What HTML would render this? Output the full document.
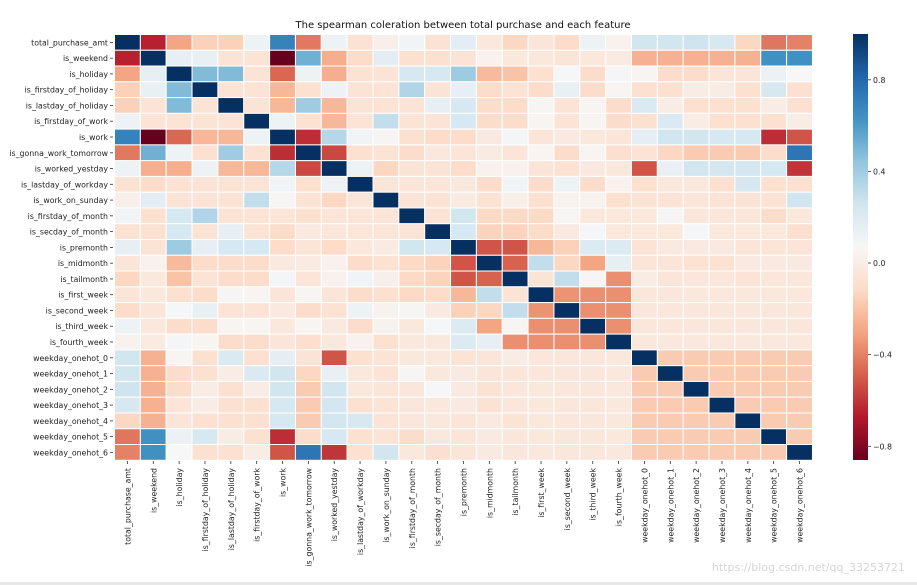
<!DOCTYPE html>
<html><head><meta charset="utf-8"><style>
html,body{margin:0;padding:0;background:#fff;}
svg{display:block;font-family:"DejaVu Sans","Liberation Sans",sans-serif;}
</style></head><body>
<svg id="chart" width="917" height="585" viewBox="0 0 917 585">
<rect x="0" y="0" width="917" height="585" fill="#fff"/>
<rect x="0" y="582" width="917" height="3" fill="#e8e8e8"/>
<text x="463" y="28" font-size="10" text-anchor="middle" fill="#111">The spearman coleration between total purchase and each feature</text>
<g id="cells"></g>
<g id="ylabels"></g>
<g id="xlabels"></g>
<defs><linearGradient id="cbg" x1="0" y1="1" x2="0" y2="0"></linearGradient></defs>
<rect x="853" y="34" width="15" height="426" fill="url(#cbg)"/>
<g id="cbticks"></g>
<text x="905" y="571" font-size="11" text-anchor="end" fill="#d4d4d4">https://blog.csdn.net/qq_33253721</text>
</svg>
<script>
const features = ["total_purchase_amt","is_weekend","is_holiday","is_firstday_of_holiday","is_lastday_of_holiday","is_firstday_of_work","is_work","is_gonna_work_tomorrow","is_worked_yestday","is_lastday_of_workday","is_work_on_sunday","is_firstday_of_month","is_secday_of_month","is_premonth","is_midmonth","is_tailmonth","is_first_week","is_second_week","is_third_week","is_fourth_week","weekday_onehot_0","weekday_onehot_1","weekday_onehot_2","weekday_onehot_3","weekday_onehot_4","weekday_onehot_5","weekday_onehot_6"];
// rows 0..19 full (27 values each)
const corrRows = [
[1,-0.65,-0.3,-0.15,-0.15,0.12,0.7,-0.42,0.12,-0.07,0.02,0.1,-0.07,0.17,-0.03,-0.13,-0.05,-0.11,0.12,0.03,0.25,0.25,0.26,0.22,-0.13,-0.43,-0.4],
[-0.65,1,0.15,0.14,-0.06,-0.06,-0.86,0.52,-0.27,-0.11,0.17,-0.08,-0.08,-0.06,0.03,-0.03,-0.03,-0.05,-0.03,-0.01,-0.26,-0.26,-0.26,-0.26,-0.26,0.64,0.64],
[-0.3,0.15,1,0.48,0.48,-0.06,-0.47,0.12,-0.27,-0.07,-0.06,0.23,0.23,0.41,-0.23,-0.2,-0.08,0.08,-0.1,0.09,0.05,-0.1,-0.1,-0.05,-0.05,0.13,0.07],
[-0.15,0.14,0.48,1,-0.06,-0.06,-0.24,-0.08,0.12,-0.06,-0.06,0.35,-0.06,0.15,-0.1,-0.06,-0.1,0.14,-0.1,0.05,-0.08,-0.08,0,0,-0.08,0.22,-0.08],
[-0.15,-0.06,0.48,-0.06,1,-0.06,-0.24,0.4,-0.24,-0.06,-0.06,-0.06,0.15,0.23,-0.1,-0.1,0.06,-0.06,0.05,-0.1,0.21,0,-0.08,-0.08,-0.08,0,-0.08],
[0.12,-0.06,-0.06,-0.06,-0.06,1,0.12,-0.07,-0.24,-0.06,0.3,-0.06,-0.06,0.23,-0.1,-0.1,0.05,-0.06,0.05,-0.1,-0.08,0.21,0,-0.08,-0.08,-0.08,0],
[0.7,-0.86,-0.47,-0.24,-0.24,0.12,1,-0.62,0.34,0.1,0.06,-0.08,-0.11,-0.11,-0.02,0.09,-0.05,-0.02,-0.03,-0.05,0.16,0.25,0.25,0.23,0.23,-0.62,-0.52],
[-0.42,0.52,0.12,-0.08,0.4,-0.07,-0.62,1,-0.55,-0.08,-0.06,-0.1,-0.03,-0.05,-0.01,-0.05,0.05,-0.1,0.05,-0.09,-0.06,-0.13,-0.17,-0.17,-0.17,-0.1,0.75],
[0.12,-0.27,-0.27,0.12,-0.24,-0.24,0.34,-0.55,1,0.12,-0.13,-0.06,-0.06,-0.11,0.03,0.03,-0.05,-0.07,-0.02,-0.03,-0.52,0.14,0.25,0.24,0.24,0.23,-0.6],
[-0.07,-0.11,-0.07,-0.06,-0.06,-0.06,0.1,-0.08,0.12,1,-0.05,-0.05,-0.05,-0.03,-0.1,0.1,-0.1,0.12,-0.1,0.03,-0.08,-0.03,-0.03,-0.08,0.22,-0.08,-0.08],
[0.02,0.17,-0.06,-0.06,-0.06,0.3,0.06,-0.06,-0.13,-0.05,1,-0.06,-0.06,-0.01,-0.07,0.02,-0.08,0.04,0.04,-0.08,-0.06,-0.06,-0.05,-0.06,-0.06,-0.06,0.25],
[0.1,-0.08,0.23,0.35,-0.06,-0.06,-0.05,-0.08,-0.05,-0.05,-0.05,1,-0.06,0.25,-0.12,-0.12,-0.12,0.06,-0.03,-0.03,-0.03,0.06,-0.04,-0.04,-0.04,-0.1,-0.03],
[-0.07,-0.08,0.23,-0.06,0.15,-0.06,-0.11,-0.02,-0.04,-0.05,-0.05,-0.06,1,0.23,-0.14,-0.14,-0.11,-0.02,0.08,-0.03,-0.03,-0.03,0.08,-0.03,-0.03,-0.03,-0.09],
[0.15,-0.06,0.41,0.15,0.23,0.23,-0.11,-0.05,-0.11,-0.03,-0.01,0.25,0.23,1,-0.52,-0.52,-0.24,-0.15,0.2,0.2,-0.06,-0.02,-0.02,-0.02,-0.05,-0.05,-0.05],
[-0.05,0.03,-0.23,-0.1,-0.1,-0.1,-0.02,-0.01,0.03,-0.1,-0.07,-0.12,-0.14,-0.52,1,-0.48,0.3,-0.13,-0.3,0.15,-0.05,-0.05,-0.07,-0.07,-0.02,-0.02,-0.02],
[-0.13,-0.03,-0.2,-0.06,-0.1,-0.1,0.09,-0.05,0.03,0.1,0.02,-0.12,-0.14,-0.52,-0.48,1,-0.06,0.3,0.06,-0.36,0,-0.05,-0.04,-0.04,-0.06,-0.04,-0.04],
[-0.05,-0.03,-0.08,-0.1,0.06,0.05,-0.05,0.05,-0.05,-0.1,-0.08,-0.12,-0.11,-0.24,0.3,-0.06,1,-0.35,-0.36,-0.36,-0.04,-0.04,-0.03,-0.03,-0.03,-0.03,-0.03],
[-0.11,-0.05,0.08,0.14,-0.06,-0.06,-0.02,-0.1,-0.07,0.12,0.04,0.06,-0.02,-0.15,-0.13,0.3,-0.35,1,-0.36,-0.36,-0.04,-0.04,-0.04,-0.04,-0.04,-0.04,-0.04],
[0.12,-0.03,-0.1,-0.1,0.05,0.05,-0.03,0.05,-0.02,-0.1,0.04,-0.03,0.08,0.2,-0.3,0.06,-0.36,-0.36,1,-0.36,-0.04,-0.04,-0.04,-0.04,-0.04,-0.04,-0.04],
[0.03,-0.01,0.09,0.05,-0.1,-0.1,-0.05,-0.09,-0.03,0.03,-0.08,-0.03,-0.03,0.2,0.15,-0.36,-0.36,-0.36,-0.36,1,-0.03,-0.03,-0.03,-0.03,-0.03,-0.03,-0.03]
];
// weekday vs weekday off-diagonal correlation
const weekdayPairCorr = [-0.17,-0.17,-0.17,-0.17,-0.17,-0.17,-0.17];
const cbTicks = [0.8,0.4,0.0,-0.4,-0.8];
const cbTickLabels = ["0.8","0.4","0.0","\u22120.4","\u22120.8"];

const vmin=-0.86, vmax=1;
const stops=["#67001f","#b2182b","#d6604d","#f4a582","#fddbc7","#f7f7f7","#d1e5f0","#92c5de","#4393c3","#2166ac","#053061"];
function hex(h){return [1,3,5].map(i=>parseInt(h.substr(i,2),16));}
function color(v){
  let f=(v-vmin)/(vmax-vmin); f=Math.max(0,Math.min(1,f));
  const p=f*10, i=Math.min(9,Math.floor(p)), t=p-i;
  const a=hex(stops[i]), b=hex(stops[i+1]);
  return "rgb("+a.map((c,k)=>Math.round(c+(b[k]-c)*t)).join(",")+")";
}
const n=features.length;
function val(i,j){
  if(i<20) return corrRows[i][j];
  if(j<20) return corrRows[j][i];
  return i===j?1:weekdayPairCorr[Math.min(i,j)-20];
}
const x0=114.5, y0=34.5, cw=25.85, ch=15.77;
const xs=j=>x0+j*cw, ys=i=>y0+i*ch;
const NS="http://www.w3.org/2000/svg";
const cells=document.getElementById('cells');
for(let i=0;i<n;i++)for(let j=0;j<n;j++){
  const r=document.createElementNS(NS,'rect');
  r.setAttribute('x',xs(j));r.setAttribute('y',ys(i));
  r.setAttribute('width',cw);r.setAttribute('height',ch);
  r.setAttribute('fill',color(val(i,j)));
  r.setAttribute('stroke','#fff');r.setAttribute('stroke-width','1');
  
  
  cells.appendChild(r);
}
const yl=document.getElementById('ylabels'), xl=document.getElementById('xlabels');
features.forEach((f,i)=>{
  const t=document.createElementNS(NS,'text');
  t.setAttribute('x',108);t.setAttribute('y',ys(i)+ch/2+3);
  t.setAttribute('font-size','7.8');t.setAttribute('text-anchor','end');t.setAttribute('fill','#222');
  t.textContent=f;
  
  
  yl.appendChild(t);
  const tk=document.createElementNS(NS,'line');
  tk.setAttribute('x1',110);tk.setAttribute('x2',113);tk.setAttribute('y1',ys(i)+ch/2);tk.setAttribute('y2',ys(i)+ch/2);
  tk.setAttribute('stroke','#333');tk.setAttribute('stroke-width','0.8');
  
  
  yl.appendChild(tk);
  const cx=xs(i)+cw/2;
  const u=document.createElementNS(NS,'text');
  u.setAttribute('transform','translate('+(cx+3)+',468) rotate(-90)');
  u.setAttribute('font-size','7.8');u.setAttribute('text-anchor','end');u.setAttribute('fill','#222');
  u.textContent=f;
  
  
  xl.appendChild(u);
  const tx=document.createElementNS(NS,'line');
  tx.setAttribute('x1',cx);tx.setAttribute('x2',cx);tx.setAttribute('y1',461);tx.setAttribute('y2',464);
  tx.setAttribute('stroke','#333');tx.setAttribute('stroke-width','0.8');
  
  
  xl.appendChild(tx);
});
const g=document.getElementById('cbg');
stops.forEach((s,k)=>{const st=document.createElementNS(NS,'stop');st.setAttribute('offset',k/10);st.setAttribute('stop-color',s);g.appendChild(st);});
const cbTop=34, cbBot=460;
const cy=v=>cbBot-(v-vmin)/(vmax-vmin)*(cbBot-cbTop);
const cbt=document.getElementById('cbticks');
cbTicks.forEach((v,k)=>{
  const l=document.createElementNS(NS,'line');
  l.setAttribute('x1',868);l.setAttribute('x2',871);l.setAttribute('y1',cy(v));l.setAttribute('y2',cy(v));
  l.setAttribute('stroke','#333');l.setAttribute('stroke-width','0.8');
  
  
  cbt.appendChild(l);
  const t=document.createElementNS(NS,'text');
  t.setAttribute('x',873);t.setAttribute('y',cy(v)+3);t.setAttribute('font-size','7.8');t.setAttribute('fill','#222');
  t.textContent=cbTickLabels[k];
  
  
  cbt.appendChild(t);
});
</script>
</body></html>
